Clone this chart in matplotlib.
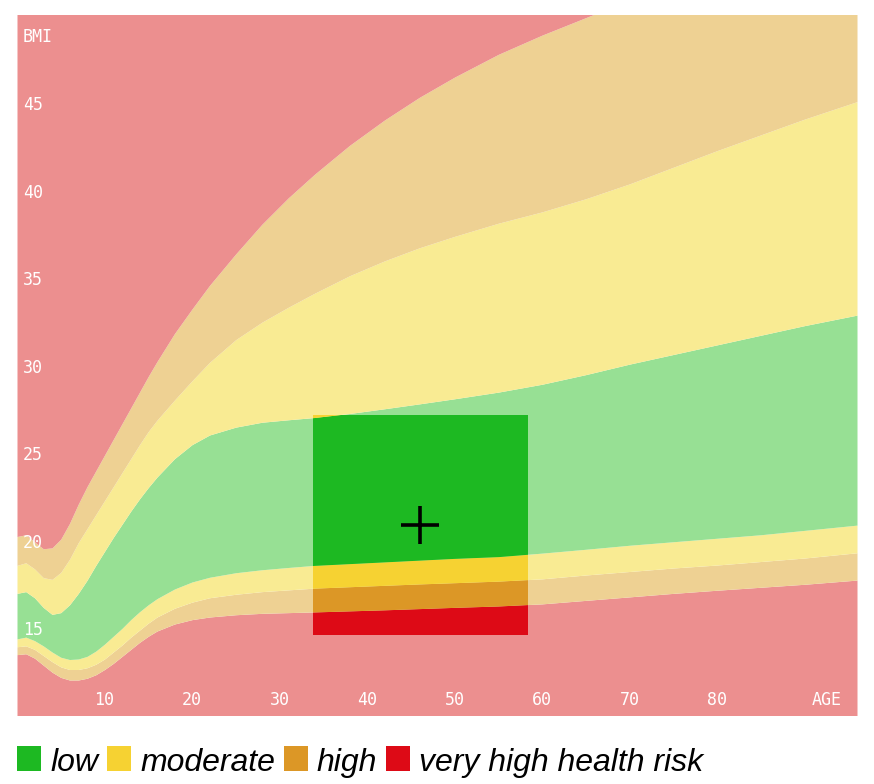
import numpy as np
import matplotlib
matplotlib.use("Agg")
import matplotlib.pyplot as plt
from matplotlib.patches import Rectangle

# boundary curves (age in years -> BMI)
ages = [0, 1, 2, 3, 4, 5, 6, 7, 8, 9, 10, 11, 12, 13, 14, 15, 16, 18, 20, 22,
        25, 28, 31, 34, 38, 42, 46, 50, 55, 60, 65, 70, 75, 80, 85, 90, 96]

# lower side: red | orange | yellow | green
under_high = [13.6, 13.65, 13.4, 13.0, 12.6, 12.3, 12.15, 12.15, 12.25, 12.45, 12.75,
              13.1, 13.5, 13.9, 14.3, 14.65, 14.95, 15.35, 15.6, 15.75, 15.88, 15.96,
              16.0, 16.04, 16.1, 16.16, 16.23, 16.3, 16.38, 16.5, 16.7, 16.9, 17.1,
              17.28, 17.45, 17.62, 17.86]
under_mod = [14.05, 14.1, 13.9, 13.55, 13.2, 12.9, 12.75, 12.75, 12.85, 13.05, 13.35,
             13.75, 14.15, 14.6, 15.0, 15.4, 15.75, 16.25, 16.6, 16.85, 17.05, 17.2,
             17.3, 17.4, 17.48, 17.56, 17.64, 17.71, 17.8, 17.93, 18.15, 18.35, 18.55,
             18.72, 18.92, 19.12, 19.42]
low_bottom = [14.5, 14.6, 14.4, 14.1, 13.75, 13.45, 13.32, 13.35, 13.5, 13.8, 14.2,
              14.65, 15.1, 15.6, 16.05, 16.45, 16.8, 17.35, 17.75, 18.02, 18.28, 18.45,
              18.58, 18.7, 18.8, 18.9, 19.0, 19.1, 19.2, 19.4, 19.62, 19.85, 20.05,
              20.25, 20.45, 20.7, 21.0]
# upper side: green | yellow | orange | red
low_top = [17.1, 17.2, 16.85, 16.3, 15.9, 16.0, 16.45, 17.1, 17.85, 18.7, 19.5,
           20.3, 21.05, 21.8, 22.5, 23.15, 23.75, 24.8, 25.6, 26.15, 26.6, 26.88,
           27.02, 27.15, 27.38, 27.65, 27.93, 28.22, 28.6, 29.05, 29.6, 30.2, 30.75,
           31.3, 31.85, 32.4, 33.0]
over_mod = [18.7, 18.85, 18.5, 18.0, 17.9, 18.3, 19.05, 20.0, 20.8, 21.6, 22.4,
            23.2, 24.0, 24.8, 25.6, 26.35, 27.0, 28.15, 29.25, 30.3, 31.6, 32.6,
            33.45, 34.25, 35.25, 36.1, 36.85, 37.5, 38.25, 38.9, 39.65, 40.5, 41.45,
            42.4, 43.3, 44.2, 45.2]
over_high = [20.35, 20.45, 20.05, 19.65, 19.7, 20.2, 21.1, 22.2, 23.2, 24.1, 25.0,
             25.9, 26.8, 27.7, 28.6, 29.5, 30.35, 31.95, 33.35, 34.7, 36.5, 38.2,
             39.7, 41.05, 42.7, 44.15, 45.45, 46.6, 47.9, 49.0, 50.0, 51.0, 51.9,
             52.8, 53.7, 54.5, 55.5]

person_age = 46
person_bmi = 21
window_age = [33.8, 58.3]
window_bmi = [14.8, 27.3]

age_ticks = [10, 20, 30, 40, 50, 60, 70, 80]
bmi_ticks = [15, 20, 25, 30, 35, 40, 45]
legend_labels = ['low', 'moderate', 'high', 'very high health risk']

pale = {'red': '#ec8f8f', 'orange': '#eed193', 'yellow': '#f9eb93', 'green': '#97e094'}
strong = {'red': '#dd0a16', 'orange': '#dc9726', 'yellow': '#f6d232', 'green': '#1db922'}

W, H = 874, 784
fig = plt.figure(figsize=(W / 100, H / 100), dpi=100)
ax = fig.add_axes([17 / W, (H - 715) / H, 840 / W, 700 / H])
ax.set_xlim(0, 96)
ax.set_ylim(10.15, 50.15)
ax.axis('off')

floor = [0] * len(ages)
ceil = [60] * len(ages)
bands = [
    (floor, under_high, 'red'),
    (under_high, under_mod, 'orange'),
    (under_mod, low_bottom, 'yellow'),
    (low_bottom, low_top, 'green'),
    (low_top, over_mod, 'yellow'),
    (over_mod, over_high, 'orange'),
    (over_high, ceil, 'red'),
]

for lo, hi, c in bands:
    ax.fill_between(ages, lo, hi, color=pale[c], lw=0)

# the highlighted window around the person
win = Rectangle((window_age[0], window_bmi[0]), window_age[1] - window_age[0],
                window_bmi[1] - window_bmi[0], transform=ax.transData)
for lo, hi, c in bands:
    coll = ax.fill_between(ages, lo, hi, color=strong[c], lw=0)
    coll.set_clip_path(win)

ax.plot(person_age, person_bmi, marker='+', ms=27, mew=2.6, color='black')

# axis labels drawn inside the plot
mono = dict(family='DejaVu Sans Mono', size=12, color='white')
for a in age_ticks:
    ax.text(a, 0.021, str(a), transform=ax.get_xaxis_transform(),
            ha='center', va='center', **mono)
ax.text(0.964, 0.021, 'AGE', transform=ax.transAxes, ha='center', va='center', **mono)
for b in bmi_ticks:
    ax.text(0.007, b, str(b), transform=ax.get_yaxis_transform(),
            ha='left', va='center', **mono)
ax.text(0.007, 0.969, 'BMI', transform=ax.transAxes, ha='left', va='center', **mono)

# legend row under the chart
fig.canvas.draw()
renderer = fig.canvas.get_renderer()
x = 17
sq_w, sq_h = 24, 25
base = H - 771
for lab, c in zip(legend_labels, ['green', 'yellow', 'orange', 'red']):
    fig.patches.append(Rectangle((x / W, base / H), sq_w / W, sq_h / H,
                                 transform=fig.transFigure, color=strong[c], lw=0))
    x += sq_w + 9
    t = fig.text(x / W, base / H, lab, family='Liberation Sans', style='italic',
                 size=23, color='black', ha='left', va='baseline')
    x += t.get_window_extent(renderer).width + 9

fig.savefig('out.png', dpi=100, facecolor='white')
